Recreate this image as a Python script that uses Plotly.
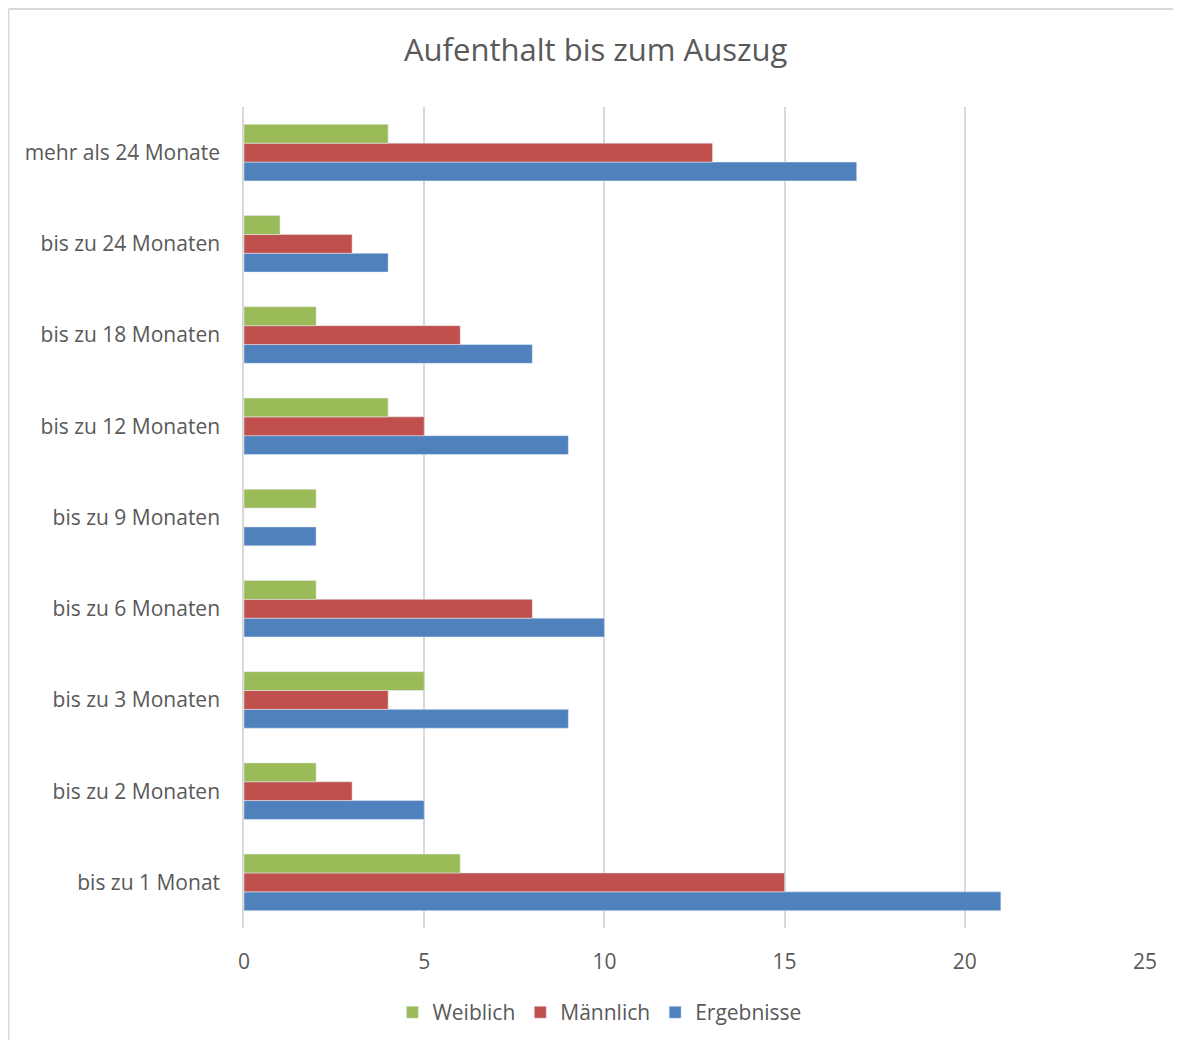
import plotly.graph_objs as go

# Daten (von unten nach oben)
categories = ['bis zu 1 Monat', 'bis zu 2 Monaten', 'bis zu 3 Monaten',
              'bis zu 6 Monaten', 'bis zu 9 Monaten', 'bis zu 12 Monaten',
              'bis zu 18 Monaten', 'bis zu 24 Monaten', 'mehr als 24 Monate']
ergebnisse = [21, 5, 9, 10, 2, 9, 8, 4, 17]
maennlich = [15, 3, 4, 8, 0, 5, 6, 3, 13]
weiblich = [6, 2, 5, 2, 2, 4, 2, 1, 4]

BLUE = '#4F81BD'
RED = '#C0504D'
GREEN = '#9BBB59'
GRID = '#D9D9D9'
TEXT = '#595959'
FONT = 'Open Sans'

tracerList = []
tracerList.append(
    go.Bar(y=categories, x=ergebnisse, name='Ergebnisse', orientation='h',
           marker_color=BLUE))
tracerList.append(
    go.Bar(y=categories, x=maennlich, name='Männlich', orientation='h',
           marker_color=RED))
tracerList.append(
    go.Bar(y=categories, x=weiblich, name='Weiblich', orientation='h',
           marker_color=GREEN))

# page body has an 8px margin, so the figure is a bit smaller than the window
fig = go.Figure(data=tracerList)
fig.update_layout(
    width=1173, height=1037,
    margin=dict(l=236, r=36, t=99, b=113),
    paper_bgcolor='white', plot_bgcolor='white',
    barmode='group', bargap=0.38, bargroupgap=0,
    title=dict(text='Aufenthalt bis zum Auszug', x=0.501, xanchor='center',
               y=0.9595, yanchor='middle',
               font=dict(family=FONT, size=31, color=TEXT)),
    font=dict(family=FONT, size=21, color=TEXT),
    xaxis=dict(range=[0, 25], dtick=5, showgrid=True, gridcolor=GRID,
               gridwidth=1.5, zeroline=False, showline=False,
               ticks='outside', ticklen=15, tickcolor='white',
               tickfont=dict(size=21, color=TEXT)),
    yaxis=dict(showgrid=False, showline=True, linecolor=GRID, linewidth=1.5,
               ticks='outside', ticklen=18, tickcolor='white',
               tickfont=dict(size=21, color=TEXT)),
    legend=dict(orientation='h', x=0.395, xanchor='center', y=-0.103,
                yanchor='middle', traceorder='reversed',
                font=dict(size=21, color=TEXT)),
    # chart frame: only the left and top edges are visible
    shapes=[dict(type='line', xref='paper', yref='paper',
                 x0=-0.2614, x1=-0.2614, y0=-0.137, y1=1.1194,
                 line=dict(color=GRID, width=2)),
            dict(type='line', xref='paper', yref='paper',
                 x0=-0.2614, x1=1.04, y0=1.1194, y1=1.1194,
                 line=dict(color=GRID, width=2))],
)

fig.write_html("out.html")
